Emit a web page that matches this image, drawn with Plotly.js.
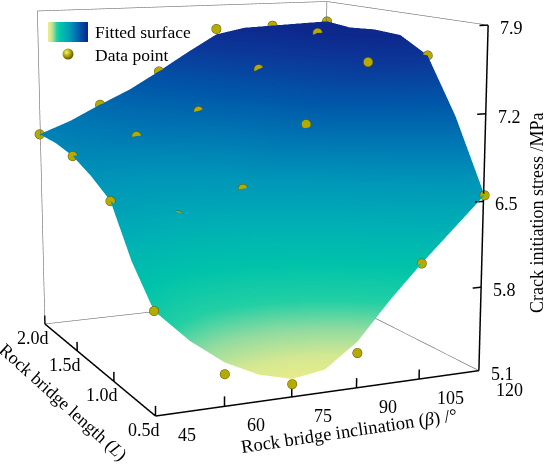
<!DOCTYPE html>
<html>
<head>
<meta charset="utf-8">
<script src="https://cdn.plot.ly/plotly-3.0.1.min.js"></script>
<style>
html,body{margin:0;padding:0;background:#fff;width:550px;height:467px;overflow:hidden;position:relative;}
#chart{position:absolute;left:-49px;top:-488px;width:600px;height:1346px;}
</style>
</head>
<body>
<div id="chart"></div>
<script>
// ---- Data points (measured) ----
const betaPts = [45, 60, 75, 90, 105, 120];          // rock bridge inclination (deg)
const lenPts = [0.5, 1.0, 1.5, 2.0];                 // rock bridge length (x d)
const stressL05 = [5.91, 5.36, 5.21, 5.39, 6.05, 6.55];
const stressL10 = [6.56, 6.40, 6.57, 7.06, 7.54, 7.57];
const stressL15 = [6.77, 6.90, 7.08, 7.41, 7.70, 7.62];
const stressL20 = [6.82, 7.05, 7.32, 7.68, 7.69, 7.71];

// ---- Fitted surface ----
const surfBeta = [45, 52.5, 60, 67.5, 75, 82.5, 90, 97.5, 105, 112.5, 120];
const surfLen = [0.5, 0.75, 1.0, 1.25, 1.5, 1.75, 2.0];
const fitL050 = [5.91, 5.65, 5.45, 5.32, 5.25, 5.29, 5.48, 5.78, 6.05, 6.30, 6.55];
const fitL075 = [6.18, 6.03, 5.91, 5.86, 5.88, 6.01, 6.24, 6.54, 6.80, 6.98, 7.12];
const fitL100 = [6.56, 6.47, 6.42, 6.47, 6.57, 6.80, 7.04, 7.30, 7.50, 7.58, 7.57];
const fitL125 = [6.68, 6.66, 6.67, 6.74, 6.83, 7.02, 7.23, 7.44, 7.61, 7.68, 7.70];
const fitL150 = [6.77, 6.83, 6.90, 6.99, 7.08, 7.24, 7.41, 7.57, 7.70, 7.72, 7.71];
const fitL175 = [6.81, 6.88, 6.98, 7.08, 7.20, 7.36, 7.52, 7.63, 7.69, 7.70, 7.69];
const fitL200 = [6.82, 6.92, 7.05, 7.17, 7.32, 7.48, 7.63, 7.68, 7.69, 7.70, 7.71];

// ---- Axes: ranges, ticks, labels ----
const xRange = [45, 120];
const yRange = [0.5, 2.0];
const zRange = [5.1, 7.9];
const xTicks = [45, 60, 75, 90, 105, 120];
const yTicks = [0.5, 1.0, 1.5, 2.0];
const yTickText = ['0.5d', '1.0d', '1.5d', '2.0d'];
const zTicks = [5.1, 5.8, 6.5, 7.2, 7.9];
const zTickText = ['5.1', '5.8', '6.5', '7.2', '7.9'];
const xTitle = 'Rock bridge inclination (<i>β</i>) /°';
const yTitle = 'Rock bridge length (<i>L</i>)';
const zTitle = 'Crack initiation stress /MPa';

const colorStops = [
  [0.00, '#eeed86'], [0.07, '#d4e892'], [0.14, '#92dba0'], [0.22, '#22cfa4'],
  [0.32, '#00c3aa'], [0.44, '#00afb5'], [0.56, '#0097b8'], [0.68, '#0077b3'],
  [0.79, '#0058a9'], [0.90, '#0b3a9b'], [1.00, '#0e2489']
];

// ---- page geometry (plot is larger than the window to soften the perspective) ----
const LW = 600, LH = 1346, OFFX = 49, OFFY = 488;
const PX = v => (v + OFFX) / LW;
const PY = v => 1 - (v + OFFY) / LH;

// ---- build traces ----
const surfZ = [fitL050, fitL075, fitL100, fitL125, fitL150, fitL175, fitL200];
const ptRows = [stressL05, stressL10, stressL15, stressL20];
const px = [], py = [], pz = [];
ptRows.forEach((row, i) => row.forEach((v, j) => { px.push(betaPts[j]); py.push(lenPts[i]); pz.push(v); }));

const surface = {
  type: 'surface', x: surfBeta, y: surfLen, z: surfZ,
  colorscale: colorStops, cmin: 5.2, cmax: 7.75, showscale: false,
  lighting: {ambient: 1, diffuse: 0, specular: 0, roughness: 1, fresnel: 0},
  hoverinfo: 'skip'
};
const points = {
  type: 'scatter3d', mode: 'markers', x: px, y: py, z: pz,
  marker: {size: 5.5, color: '#b4aa00', line: {color: '#5e5800', width: 1}},
  hoverinfo: 'skip'
};

// box corners pulled a hair inside the ranges so the lines are not clipped
const ex = (xRange[1] - xRange[0]) * 2e-3, ey = (yRange[1] - yRange[0]) * 2e-3, ez = (zRange[1] - zRange[0]) * 2e-3;
const x0 = xRange[0] + ex, x1 = xRange[1] - ex, y0 = yRange[0] + ey, y1 = yRange[1] - ey, z0 = zRange[0] + ez, z1 = zRange[1] - ez;
function segTrace(segs, color, width) {
  const a = [], b = [], c = [];
  segs.forEach(s => { s.forEach(p => { a.push(p[0]); b.push(p[1]); c.push(p[2]); }); a.push(null); b.push(null); c.push(null); });
  return {type: 'scatter3d', mode: 'lines', x: a, y: b, z: c, connectgaps: false,
    line: {color: color, width: width}, hoverinfo: 'skip'};
}
// thin back edges of the box
const boxEdges = segTrace([
  [[x0, y1, z0], [x0, y1, z1]], [[x1, y1, z0], [x1, y1, z1]],
  [[x0, y1, z1], [x1, y1, z1]], [[x1, y1, z1], [x1, y0, z1]],
  [[x0, y1, z0], [x1, y1, z0]], [[x1, y1, z0], [x1, y0, z0]]
], '#6b6b6b', 1.2);
// thick axis lines with inward ticks
const axSegs = [
  [[x0, y0, z0], [x1, y0, z0]],
  [[x0, y0, z0], [x0, y1, z0]],
  [[x1, y0, z0], [x1, y0, z1]]
];
const zt = (zRange[1] - zRange[0]) * 0.028, xt = (xRange[1] - xRange[0]) * 0.028;
const clampX = v => Math.min(Math.max(v, x0), x1), clampY = v => Math.min(Math.max(v, y0), y1), clampZ = v => Math.min(Math.max(v, z0), z1);
xTicks.forEach(v => axSegs.push([[clampX(v), y0, z0], [clampX(v), y0, z0 + zt]]));
yTicks.forEach(v => axSegs.push([[x0, clampY(v), z0], [x0, clampY(v), z0 + zt]]));
zTicks.forEach(v => axSegs.push([[x1, y0, clampZ(v)], [x1 - xt, y0, clampZ(v)]]));
const axesLines = segTrace(axSegs, '#000', 3);

const FONT = 'Liberation Serif, Times New Roman, serif';
function axis(range) {
  return {
    range: range, ticks: '', showline: false, showgrid: false, zeroline: false,
    showbackground: false, showspikes: false, showticklabels: false, showaxeslabels: false,
    title: {text: ''}
  };
}

// 3-D anchored tick labels
const tf = {family: FONT, size: 18, color: '#000'};
const sceneAnn = [];
xTicks.forEach(v => sceneAnn.push({x: clampX(v), y: y0, z: z0,
  text: String(v), showarrow: false, xanchor: 'center', yanchor: 'middle', xshift: 31, yshift: -19, font: tf}));
yTicks.forEach((v, i) => sceneAnn.push({x: x0, y: clampY(v), z: z0,
  text: yTickText[i], showarrow: false, xanchor: 'center', yanchor: 'middle', xshift: -12, yshift: -14, font: tf}));
zTicks.forEach((v, i) => sceneAnn.push({x: x1, y: y0, z: clampZ(v),
  text: zTickText[i], showarrow: false, xanchor: 'left', yanchor: 'middle', xshift: 10, yshift: -3, font: tf}));

const dir = [-0.400, -0.897, 0.183];
const dist = 4.85;

const layout = {
  width: LW, height: LH, margin: {l: 0, r: 0, t: 0, b: 0},
  paper_bgcolor: '#fff', showlegend: false,
  font: {family: FONT, color: '#000'},
  scene: {
    domain: {x: [0, 1], y: [0, 1]},
    aspectmode: 'manual', aspectratio: {x: 1, y: 1, z: 1},
    camera: {
      projection: {type: 'perspective'},
      center: {x: 0, y: 0, z: 0},
      eye: {x: dist * dir[0], y: dist * dir[1], z: dist * dir[2]},
      up: {x: 0, y: 0, z: 1}
    },
    xaxis: axis(xRange), yaxis: axis(yRange), zaxis: axis(zRange),
    annotations: sceneAnn
  },
  images: [],
  annotations: [
    {xref: 'paper', yref: 'paper', x: PX(93), y: PY(32), xanchor: 'left', yanchor: 'middle',
     text: 'Fitted surface', showarrow: false, font: {family: FONT, size: 17.5, color: '#000'}},
    {xref: 'paper', yref: 'paper', x: PX(93), y: PY(55), xanchor: 'left', yanchor: 'middle',
     text: 'Data point', showarrow: false, font: {family: FONT, size: 17.5, color: '#000'}},
    {xref: 'paper', yref: 'paper', x: PX(349), y: PY(431), xanchor: 'center', yanchor: 'middle',
     text: xTitle, textangle: -8.5, showarrow: false, font: {family: FONT, size: 18.5, color: '#000'}},
    {xref: 'paper', yref: 'paper', x: PX(63), y: PY(402), xanchor: 'center', yanchor: 'middle',
     text: yTitle, textangle: 42, showarrow: false, font: {family: FONT, size: 18, color: '#000'}},
    {xref: 'paper', yref: 'paper', x: PX(537), y: PY(213), xanchor: 'center', yanchor: 'middle',
     text: zTitle, textangle: -90, showarrow: false, font: {family: FONT, size: 18, color: '#000'}}
  ]
};

// legend swatches
let grad = "<svg xmlns='http://www.w3.org/2000/svg' width='40' height='20'><defs><linearGradient id='g' x1='0' x2='1' y1='0' y2='0'>";
colorStops.forEach(s => { grad += "<stop offset='" + s[0] + "' stop-color='" + s[1] + "'/>"; });
grad += "</linearGradient></defs><rect width='40' height='20' fill='url(#g)'/></svg>";
const ball = "<svg xmlns='http://www.w3.org/2000/svg' width='12' height='12'><defs><radialGradient id='b' cx='0.38' cy='0.35' r='0.65'><stop offset='0' stop-color='#f4f080'/><stop offset='0.5' stop-color='#b4aa00'/><stop offset='1' stop-color='#5e5800'/></radialGradient></defs><circle cx='6' cy='6' r='5.5' fill='url(#b)'/></svg>";
layout.images.push({source: 'data:image/svg+xml;charset=utf-8,' + encodeURIComponent(grad), xref: 'paper', yref: 'paper',
  x: PX(48), y: PY(22), sizex: 40 / LW, sizey: 20 / LH, xanchor: 'left', yanchor: 'top', sizing: 'stretch', layer: 'above'});
layout.images.push({source: 'data:image/svg+xml;charset=utf-8,' + encodeURIComponent(ball), xref: 'paper', yref: 'paper',
  x: PX(62), y: PY(48), sizex: 12 / LW, sizey: 12 / LH, xanchor: 'left', yanchor: 'top', sizing: 'stretch', layer: 'above'});

Plotly.newPlot('chart', [surface, points, boxEdges, axesLines], layout, {displayModeBar: false});
</script>
</body>
</html>
